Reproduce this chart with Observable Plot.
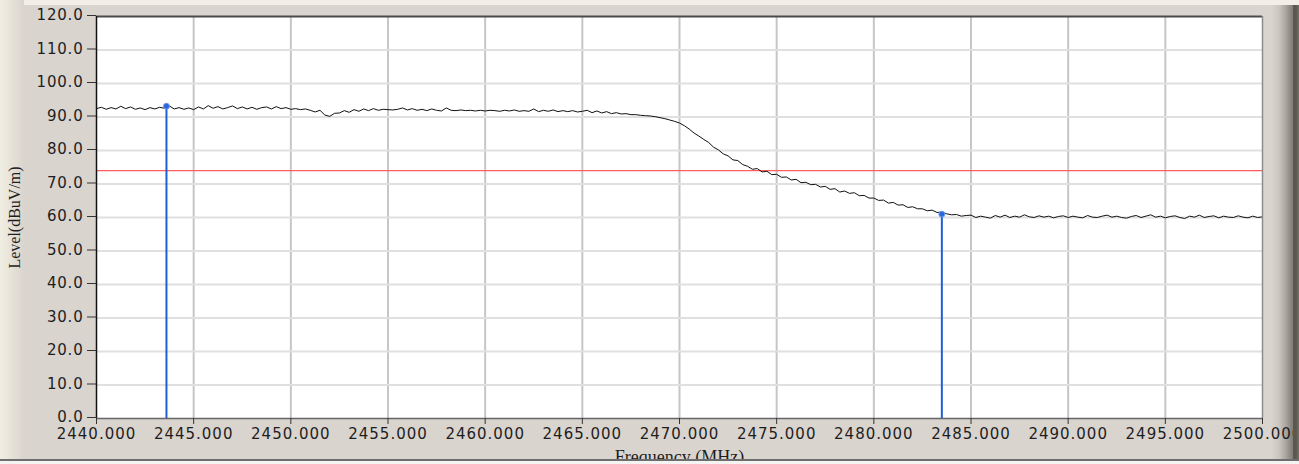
<!DOCTYPE html>
<html>
<head>
<meta charset="utf-8">
<script src="https://cdn.jsdelivr.net/npm/d3@7"></script>
<script src="https://cdn.jsdelivr.net/npm/@observablehq/plot@0.6"></script>
<style>
html, body { margin: 0; padding: 0; background: #dad4ce; }
#wrap { position: relative; width: 1299px; height: 464px; overflow: hidden; background: #dad4ce; }
#wrap svg { display: block; position: relative; }
.deco { position: absolute; pointer-events: none; }
#dTop { left: 0; top: 0; width: 1299px; height: 5px; background: #f2f0e6; }
#dLeft { left: 0; top: 0; width: 24px; height: 464px; background: linear-gradient(to right, #f0ede2 0, #ebe7dc 7px, #dad4ce 24px); }
#dRight { left: 1271px; top: 5px; width: 28px; height: 454px; background: linear-gradient(to right, #dad4ce 0, #cbc6bf 8px, #a9a59e 15px, #84817a 21px); }
#dEdge { left: 1293px; top: 5px; width: 6px; height: 454px; background: linear-gradient(to right, #5c5951 0, #5a574f 3px, #77746c 6px); }
#dBottom { left: 0; top: 459px; width: 1299px; height: 5px; background: linear-gradient(#6e6e6e 0, #6e6e6e 1.5px, #f4f4f2 2px); }
g[aria-label="y-axis label"] text, g[aria-label="x-axis label"] text { font-family: "Liberation Serif", "DejaVu Serif", serif; }
g[aria-label="x-axis tick label"] text { letter-spacing: 1px; }
g[aria-label="y-axis tick label"] text { letter-spacing: 0.8px; }
</style>
</head>
<body>
<div id="wrap"></div>
<script>
// Axis setup
const xDomain = [2440, 2500];
const yDomain = [0, 120];
const xTicks = [2440, 2445, 2450, 2455, 2460, 2465, 2470, 2475, 2480, 2485, 2490, 2495, 2500];
const yTicks = [0, 10, 20, 30, 40, 50, 60, 70, 80, 90, 100, 110, 120];
const gridX = [2445, 2450, 2455, 2460, 2465, 2470, 2475, 2480, 2485, 2490, 2495];
const gridY = [10, 20, 30, 40, 50, 60, 70, 80, 90, 100, 110];

// Limit line (dBuV/m)
const limitLevels = [74.0];

// Markers
const markerFreqs = [2443.6, 2483.5];
const markerLevels = [93.2, 61.0];

// Sweep: start frequency and step (MHz), levels (dBuV/m)
const sweepStart = 2440;
const sweepStep = 0.25;
const sweepLevels = [
  // 2440 - 2444.75
  92.5, 92.9, 92.3, 92.8, 92.4, 93.2, 92.5, 93.0, 92.3, 92.7, 92.2, 92.8, 92.4, 92.9, 92.6, 93.3, 92.4, 92.8, 92.3, 92.7,
  // 2445 - 2449.75
  92.2, 93.0, 92.4, 93.4, 92.6, 93.1, 92.4, 92.8, 93.3, 92.5, 93.0, 92.4, 92.9, 92.3, 92.8, 93.0, 92.4, 93.1, 92.5, 92.8,
  // 2450 - 2454.75
  92.3, 92.5, 92.2, 92.4, 92.0, 91.5, 92.0, 90.6, 90.2, 91.1, 91.2, 91.9, 91.4, 92.2, 91.7, 92.4, 91.9, 92.5, 92.0, 92.3,
  // 2455 - 2459.75
  92.2, 92.1, 92.3, 92.7, 92.1, 92.5, 92.0, 92.3, 91.9, 92.4, 92.0, 91.8, 92.7, 92.0, 91.9, 92.1, 91.9, 92.0, 91.8, 92.0,
  // 2460 - 2464.75
  91.8, 92.0, 91.9, 91.7, 92.0, 91.8, 92.1, 91.7, 91.9, 91.7, 92.4, 91.6, 92.0, 91.7, 92.1, 91.6, 91.9, 91.6, 91.9, 91.5,
  // 2465 - 2469.75
  91.7, 92.0, 91.3, 91.8, 91.2, 91.6, 91.0, 91.3, 90.9, 91.0, 90.7, 90.7, 90.5, 90.4, 90.3, 90.1, 89.8, 89.5, 89.1, 88.7,
  // 2470 - 2474.75
  88.2, 87.4, 86.4, 85.2, 84.3, 83.3, 82.4, 81.0, 80.2, 79.0, 78.4, 77.2, 77.0, 75.8, 75.3, 74.4, 74.6, 73.6, 73.8, 72.8,
  // 2475 - 2479.75
  72.9, 72.0, 72.1, 71.2, 71.4, 70.4, 70.5, 69.8, 69.9, 69.1, 69.3, 68.4, 68.6, 67.6, 67.9, 67.2, 67.4, 66.5, 66.6, 65.8,
  // 2480 - 2484.75
  65.8, 65.1, 65.2, 64.3, 64.5, 63.7, 63.8, 63.0, 63.2, 62.6, 62.6, 62.0, 62.2, 61.5, 61.6, 61.1, 60.8, 60.9, 60.4, 60.6,
  // 2485 - 2489.75
  60.7, 60.0, 60.4, 60.1, 59.8, 60.6, 60.1, 60.7, 60.0, 60.4, 60.1, 60.8, 60.2, 60.0, 60.5, 60.1, 60.4, 59.9, 60.3, 60.5,
  // 2490 - 2494.75
  60.0, 60.4, 60.1, 59.9, 60.6, 60.1, 60.0, 60.4, 60.7, 60.1, 60.4, 60.0, 59.8, 60.3, 60.6, 60.0, 60.4, 60.8, 60.1, 60.4,
  // 2495 - 2500
  59.9, 60.3, 60.5, 60.0, 59.7, 60.4, 60.1, 60.7, 60.0, 60.3, 60.5, 59.9, 60.4, 60.1, 60.0, 60.5, 60.1, 59.9, 60.4, 60.0,
  60.2
];

const trace = sweepLevels.map((level, i) => ({freq: sweepStart + i * sweepStep, level}));
const markers = markerFreqs.map((freq, i) => ({freq, level: markerLevels[i]}));

const plot = Plot.plot({
  width: 1299,
  height: 464,
  marginLeft: 96,
  marginRight: 37,
  marginTop: 16,
  marginBottom: 46,
  style: {background: "transparent", fontFamily: "DejaVu Sans", fontSize: "14px", color: "#1e1e1e", overflow: "visible"},
  x: {domain: xDomain},
  y: {domain: yDomain},
  marks: [
    Plot.frame({fill: "white", stroke: null}),
    Plot.ruleX(gridX, {stroke: "#c6c6c6", strokeWidth: 2}),
    Plot.ruleY(gridY, {stroke: "#e0e0e0", strokeWidth: 2}),
    Plot.ruleY(limitLevels, {stroke: "#ff5c5c", strokeWidth: 1.2}),
    Plot.line(trace, {x: "freq", y: "level", stroke: "#111", strokeWidth: 1}),
    Plot.ruleX(markers, {x: "freq", y1: yDomain[0], y2: "level", stroke: "#1d5fd8", strokeWidth: 2}),
    Plot.dot(markers, {x: "freq", y: "level", r: 3, fill: "#2a66dc", stroke: "#6f9cf0", strokeWidth: 1}),
    Plot.ruleY([yDomain[1]], {stroke: "#4a4a4a", strokeWidth: 2}),
    Plot.ruleX([xDomain[1]], {stroke: "#8c8c8c", strokeWidth: 1.5}),
    Plot.ruleX([xDomain[0]], {stroke: "#111", strokeWidth: 1.5}),
    Plot.ruleY([yDomain[0]], {stroke: "#666", strokeWidth: 1.5}),
    Plot.axisX({
      ticks: xTicks,
      tickFormat: d => d.toFixed(3),
      tickSize: 6,
      tickPadding: 4,
      fontSize: 15,
      stroke: "#333",
      label: "Frequency (MHz)",
      labelAnchor: "center",
      labelArrow: "none",
      labelOffset: 44
    }),
    Plot.axisY({
      ticks: yTicks,
      tickFormat: d => d.toFixed(1),
      tickSize: 9,
      tickPadding: 4,
      fontSize: 15,
      dy: -1,
      stroke: "#333",
      label: "Level(dBuV/m)",
      labelAnchor: "center",
      labelArrow: "none",
      labelOffset: 88
    })
  ]
});

const wrap = document.getElementById("wrap");
function deco(id) {
  const d = document.createElement("div");
  d.className = "deco";
  d.id = id;
  wrap.appendChild(d);
}
deco("dTop");
deco("dLeft");
deco("dRight");
wrap.appendChild(plot);
deco("dEdge");
deco("dBottom");
// axis label sizes
plot.querySelectorAll('g[aria-label="x-axis label"] text').forEach(t => t.setAttribute("font-size", 18));
plot.querySelectorAll('g[aria-label="y-axis label"] text').forEach(t => t.setAttribute("font-size", 16));
</script>
</body>
</html>
